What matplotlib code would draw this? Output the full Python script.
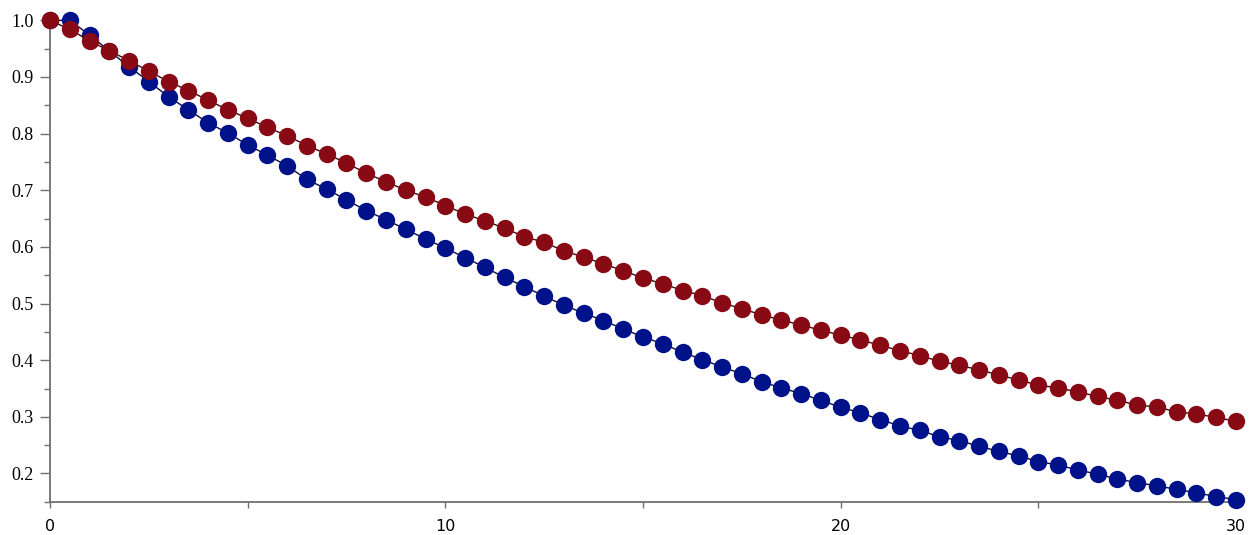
import matplotlib.pyplot as plt
from matplotlib.ticker import MultipleLocator, FormatStrFormatter

# x positions: 0, 0.5, ..., 30
t = [i * 0.5 for i in range(61)]

red_vals = [1.000, 0.984, 0.964, 0.946, 0.929, 0.910, 0.892, 0.876, 0.859, 0.842,
            0.827, 0.811, 0.796, 0.779, 0.764, 0.748, 0.730, 0.715, 0.700, 0.688,
            0.673, 0.658, 0.646, 0.633, 0.618, 0.608, 0.593, 0.582, 0.570, 0.558,
            0.545, 0.535, 0.523, 0.514, 0.501, 0.491, 0.480, 0.471, 0.462, 0.453,
            0.444, 0.436, 0.426, 0.417, 0.408, 0.398, 0.391, 0.383, 0.374, 0.365,
            0.356, 0.351, 0.344, 0.336, 0.329, 0.321, 0.317, 0.309, 0.305, 0.299,
            0.292]

blue_vals = [1.000, 1.000, 0.974, 0.946, 0.918, 0.892, 0.865, 0.842, 0.819, 0.801,
             0.780, 0.762, 0.743, 0.719, 0.702, 0.683, 0.664, 0.648, 0.631, 0.614,
             0.598, 0.581, 0.564, 0.546, 0.530, 0.513, 0.497, 0.483, 0.470, 0.455,
             0.441, 0.429, 0.414, 0.401, 0.388, 0.376, 0.362, 0.351, 0.341, 0.329,
             0.317, 0.307, 0.295, 0.284, 0.276, 0.265, 0.258, 0.248, 0.239, 0.231,
             0.221, 0.215, 0.206, 0.199, 0.190, 0.184, 0.178, 0.172, 0.166, 0.159,
             0.154]

red_col = '#870A14'
blue_col = '#00128A'

fig = plt.figure(figsize=(12.56, 5.35), dpi=100)
ax = fig.add_axes([0.0398, 0.061, 0.9443, 0.901])

ax.plot(t, blue_vals, '-', color='#0a0a40', lw=1.0, zorder=2, clip_on=False)
ax.plot(t, blue_vals, 'o', color=blue_col, ms=12.5, mew=0, zorder=3, clip_on=False)
ax.plot(t, red_vals, '-', color='#3a0a0a', lw=1.0, zorder=4, clip_on=False)
ax.plot(t, red_vals, 'o', color=red_col, ms=12.5, mew=0, zorder=5, clip_on=False)

ax.set_xlim(0, 30)
ax.set_ylim(0.149, 1.0)

for s in ['top', 'right']:
    ax.spines[s].set_visible(False)
for s in ['left', 'bottom']:
    ax.spines[s].set_color('#707070')
    ax.spines[s].set_linewidth(1.3)
    ax.spines[s].set_zorder(1)

ax.xaxis.set_major_locator(MultipleLocator(10))
ax.xaxis.set_minor_locator(MultipleLocator(5))
ax.yaxis.set_major_locator(MultipleLocator(0.1))
ax.yaxis.set_minor_locator(MultipleLocator(0.05))
ax.yaxis.set_major_formatter(FormatStrFormatter('%.1f'))

ax.tick_params(axis='y', which='major', length=7, width=1, color='#707070', pad=5)
ax.tick_params(axis='y', which='minor', length=4, width=1, color='#707070')
ax.tick_params(axis='x', which='both', length=4, width=1, color='#707070', pad=8)

for lab in ax.get_yticklabels():
    lab.set_family('Liberation Serif')
    lab.set_fontsize(13)
for lab in ax.get_xticklabels():
    lab.set_family('DejaVu Sans')
    lab.set_fontsize(11.5)

fig.savefig('out.png', dpi=100)
